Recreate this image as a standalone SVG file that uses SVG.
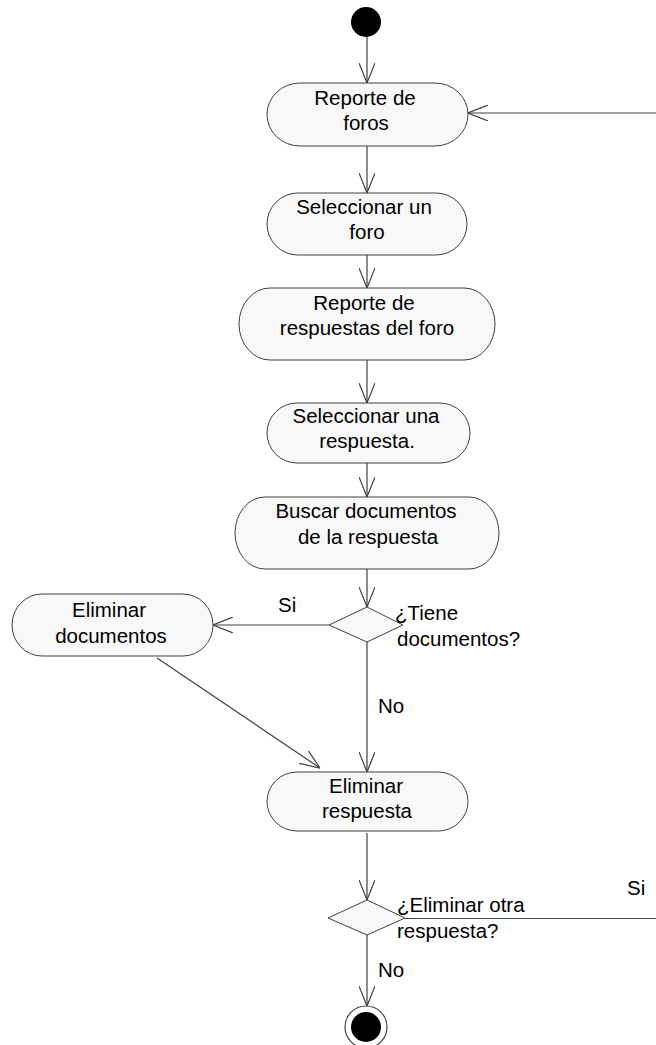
<svg xmlns="http://www.w3.org/2000/svg" width="656" height="1045" viewBox="0 0 656 1045">
<style>
.node{fill:#f8f8f8;stroke:#404040;stroke-width:1}
.t{font-family:"Liberation Sans",Arial,sans-serif;font-size:20.5px;fill:#000}
.c{text-anchor:middle}
.ln{fill:none;stroke:#404040;stroke-width:1.2}
</style>
<defs>
<marker id="a" viewBox="0 0 20 16" refX="20" refY="8" markerWidth="20" markerHeight="16" markerUnits="userSpaceOnUse" orient="auto">
<path d="M0,0 L20,8 L0,16" fill="none" stroke="#404040" stroke-width="1.2"/>
</marker>
</defs>
<rect width="656" height="1045" fill="#fff"/>
<g id="connectors">
<line class="ln" x1="367" y1="37" x2="367" y2="83" marker-end="url(#a)"/>
<line class="ln" x1="367" y1="146" x2="367" y2="193" marker-end="url(#a)"/>
<line class="ln" x1="367" y1="255" x2="367" y2="288" marker-end="url(#a)"/>
<line class="ln" x1="367" y1="360" x2="367" y2="403" marker-end="url(#a)"/>
<line class="ln" x1="367" y1="463" x2="367" y2="497" marker-end="url(#a)"/>
<line class="ln" x1="367" y1="569" x2="367" y2="607" marker-end="url(#a)"/>
<line class="ln" x1="329" y1="625" x2="213" y2="625" marker-end="url(#a)"/>
<line class="ln" x1="367" y1="642" x2="367" y2="772" marker-end="url(#a)"/>
<line class="ln" x1="157" y1="658" x2="320" y2="768" marker-end="url(#a)"/>
<line class="ln" x1="367" y1="833" x2="367" y2="900" marker-end="url(#a)"/>
<line class="ln" x1="405" y1="918.5" x2="656" y2="918.5"/>
<line class="ln" x1="656" y1="113" x2="468" y2="113" marker-end="url(#a)"/>
<line class="ln" x1="367" y1="935" x2="367" y2="1006" marker-end="url(#a)"/>
<text class="t" x="278" y="612">Si</text>
<text class="t" x="378" y="713">No</text>
<text class="t" x="627" y="895">Si</text>
<text class="t" x="378" y="977">No</text>
</g>
<g id="start"><circle cx="366" cy="22" r="15" fill="#000"/></g>
<g id="n1"><path class="node" d="M300,83 H435 A33,31.5 0 0 1 435,146 H300 A33,31.5 0 0 1 300,83 Z"/>
<text class="t c" x="365" y="105">Reporte de</text><text class="t c" x="366" y="130">foros</text></g>
<g id="n2"><path class="node" d="M298,193 H436 A31,31 0 0 1 436,255 H298 A31,31 0 0 1 298,193 Z"/>
<text class="t c" x="364" y="214">Seleccionar un</text><text class="t c" x="367" y="239">foro</text></g>
<g id="n3"><path class="node" d="M270,288 H464 A31,36 0 0 1 464,360 H270 A31,36 0 0 1 270,288 Z"/>
<text class="t c" x="364" y="310">Reporte de</text><text class="t c" x="367" y="335">respuestas del foro</text></g>
<g id="n4"><path class="node" d="M297,403 H440 A30,30 0 0 1 440,463 H297 A30,30 0 0 1 297,403 Z"/>
<text class="t c" x="366" y="423">Seleccionar una</text><text class="t c" x="367" y="448">respuesta.</text></g>
<g id="n5"><path class="node" d="M265,497 H469 A30,36 0 0 1 469,569 H265 A30,36 0 0 1 265,497 Z"/>
<text class="t c" x="366" y="518">Buscar documentos</text><text class="t c" x="368" y="544">de la respuesta</text></g>
<g id="d1"><path class="node" d="M367,607 L403,625 L367,642 L329,625 Z"/>
<text class="t" x="395" y="620">¿Tiene</text><text class="t" x="397" y="646">documentos?</text></g>
<g id="n6"><path class="node" d="M42,594 H183 A30,31 0 0 1 183,656 H42 A30,31 0 0 1 42,594 Z"/>
<text class="t c" x="109" y="617">Eliminar</text><text class="t c" x="111" y="643">documentos</text></g>
<g id="n7"><path class="node" d="M297,772 H438 A30,29.5 0 0 1 438,831 H297 A30,29.5 0 0 1 297,772 Z"/>
<text class="t c" x="366" y="793">Eliminar</text><text class="t c" x="367" y="818">respuesta</text></g>
<g id="d2"><path class="node" d="M367,900 L405,918 L367,935 L328,918 Z"/>
<text class="t" x="397" y="912">¿Eliminar otra</text><text class="t" x="397" y="938">respuesta?</text></g>
<g id="end"><circle cx="366" cy="1027" r="21" fill="#fff" stroke="#404040" stroke-width="1.2"/><circle cx="366" cy="1027" r="15" fill="#000"/></g>
</svg>
